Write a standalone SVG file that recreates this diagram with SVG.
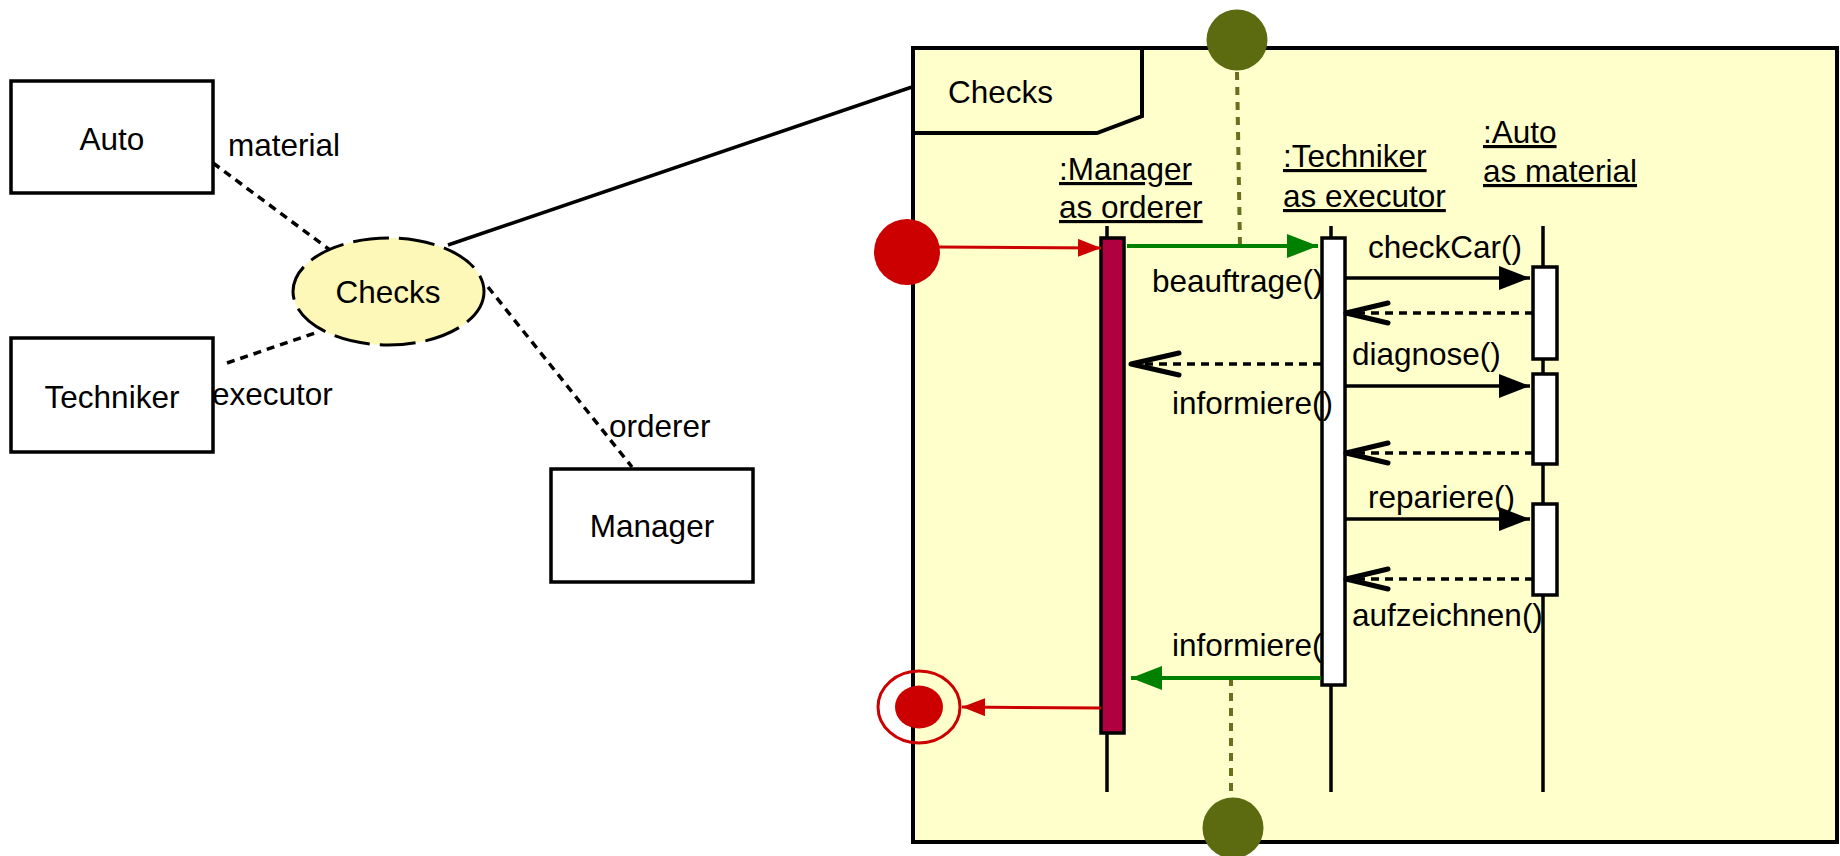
<svg xmlns="http://www.w3.org/2000/svg" width="1840" height="856" viewBox="0 0 1840 856">
<style>
text{font-family:"Liberation Sans",Arial,sans-serif;font-size:31.5px;fill:#000}
.box{fill:#fff;stroke:#000;stroke-width:3.5}
.dot{fill:none;stroke:#000;stroke-width:3.5;stroke-dasharray:8 6}
.life{stroke:#000;stroke-width:3.5}
.msg{stroke:#000;stroke-width:3.5;fill:none}
.ret{stroke:#000;stroke-width:3.5;fill:none;stroke-dasharray:8 6}
.olive{stroke:#66701e;stroke-width:4;stroke-dasharray:8 7;fill:none}
.act{fill:#fff;stroke:#000;stroke-width:3.5}
.u{text-decoration:underline}
</style>
<defs>
<marker id="fb" markerUnits="userSpaceOnUse" viewBox="0 0 31 24" refX="31" refY="12" markerWidth="31" markerHeight="24" orient="auto"><path d="M0,0 L31,12 L0,24 z" fill="#000"/></marker>
<marker id="fg" markerUnits="userSpaceOnUse" viewBox="0 0 31 24" refX="31" refY="12" markerWidth="31" markerHeight="24" orient="auto"><path d="M0,0 L31,12 L0,24 z" fill="#008000"/></marker>
<marker id="fr" markerUnits="userSpaceOnUse" viewBox="0 0 23 18" refX="23" refY="9" markerWidth="23" markerHeight="18" orient="auto"><path d="M0,0 L23,9 L0,18 z" fill="#cc0000"/></marker>
<marker id="op" markerUnits="userSpaceOnUse" viewBox="-4 -4 50 30" refX="42" refY="10" markerWidth="50" markerHeight="30" orient="auto" overflow="visible"><path d="M0,0 L42,10 L0,20" fill="none" stroke="#000" stroke-width="5" stroke-linecap="round" stroke-linejoin="round"/></marker>
<marker id="op2" markerUnits="userSpaceOnUse" viewBox="-4 -4 56 30" refX="48" refY="11" markerWidth="56" markerHeight="30" orient="auto" overflow="visible"><path d="M0,0 L48,11 L0,22" fill="none" stroke="#000" stroke-width="5" stroke-linecap="round" stroke-linejoin="round"/></marker>
</defs>

<g id="left-connectors">
<line class="dot" x1="213" y1="163" x2="330" y2="250"/>
<line class="dot" x1="227" y1="363" x2="318" y2="332"/>
<line class="dot" x1="488" y1="287" x2="632" y2="467"/>
<line class="msg" x1="448" y1="245" x2="912" y2="87"/>
</g>

<g id="auto"><rect class="box" x="11" y="81" width="202" height="112"/><text x="112" y="150" text-anchor="middle">Auto</text></g>
<g id="techniker"><rect class="box" x="11" y="338" width="202" height="114"/><text x="112" y="408" text-anchor="middle">Techniker</text></g>
<g id="manager"><rect class="box" x="551" y="469" width="202" height="113"/><text x="652" y="537" text-anchor="middle">Manager</text></g>
<g id="checks-usecase"><ellipse cx="388.5" cy="291.5" rx="95.5" ry="53.5" fill="#fdf8b8" stroke="#000" stroke-width="3" stroke-dasharray="36 10"/><text x="388" y="303" text-anchor="middle">Checks</text></g>
<g id="role-labels">
<text x="228" y="156">material</text>
<text x="212" y="405">executor</text>
<text x="609" y="437">orderer</text>
</g>

<g id="frame">
<rect x="913" y="48" width="924" height="794" fill="#ffffcc" stroke="#000" stroke-width="4"/>
<path d="M913,133 L1097,133 L1142,116 L1142,48" fill="none" stroke="#000" stroke-width="4"/>
<text x="948" y="103">Checks</text>
</g>

<g id="gates">
<line class="olive" x1="1237" y1="72" x2="1240" y2="246"/>
<line class="olive" x1="1231" y1="678" x2="1231" y2="792"/>
<circle cx="1237" cy="40" r="30.5" fill="#5c6a10"/>
<circle cx="1233" cy="828" r="30.5" fill="#5c6a10"/>
</g>

<g id="lifeline-manager">
<line class="life" x1="1107" y1="226" x2="1107" y2="792"/>
<rect x="1101" y="238" width="23" height="495" fill="#b00040" stroke="#000" stroke-width="3.5"/>
<text class="u" x="1059" y="180">:Manager</text>
<text class="u" x="1059" y="218">as orderer</text>
</g>

<text x="1172" y="656">informiere()</text>

<g id="lifeline-techniker">
<line class="life" x1="1331" y1="226" x2="1331" y2="792"/>
<rect class="act" x="1322" y="238" width="23" height="447"/>
<text class="u" x="1283" y="167">:Techniker</text>
<text class="u" x="1283" y="207">as executor</text>
</g>

<g id="lifeline-auto">
<line class="life" x1="1543" y1="226" x2="1543" y2="792"/>
<rect class="act" x="1533" y="267" width="24" height="92"/>
<rect class="act" x="1533" y="374" width="24" height="90"/>
<rect class="act" x="1533" y="504" width="24" height="91"/>
<text class="u" x="1483" y="143">:Auto</text>
<text class="u" x="1483" y="182">as material</text>
</g>

<g id="start"><circle cx="907" cy="252" r="33" fill="#cc0000"/></g>
<g id="end"><ellipse cx="919" cy="707" rx="41" ry="36" fill="none" stroke="#cc0000" stroke-width="3"/><ellipse cx="919" cy="707" rx="24" ry="21.5" fill="#cc0000"/></g>

<g id="connectors">
<line x1="938" y1="247" x2="1101" y2="248" stroke="#cc0000" stroke-width="3" marker-end="url(#fr)"/>
<line x1="1127" y1="246" x2="1318" y2="246" stroke="#008000" stroke-width="4" marker-end="url(#fg)"/>
<line class="msg" x1="1345" y1="278" x2="1530" y2="278" marker-end="url(#fb)"/>
<line class="ret" x1="1533" y1="313" x2="1346" y2="313" marker-end="url(#op)"/>
<line class="ret" x1="1321" y1="364" x2="1131" y2="364" marker-end="url(#op2)"/>
<line class="msg" x1="1345" y1="386" x2="1530" y2="386" marker-end="url(#fb)"/>
<line class="ret" x1="1533" y1="453" x2="1346" y2="453" marker-end="url(#op)"/>
<line class="msg" x1="1345" y1="519" x2="1530" y2="519" marker-end="url(#fb)"/>
<line class="ret" x1="1533" y1="579" x2="1346" y2="579" marker-end="url(#op)"/>
<line x1="1321" y1="678" x2="1131" y2="678" stroke="#008000" stroke-width="4" marker-end="url(#fg)"/>
<line x1="1101" y1="708" x2="962" y2="707" stroke="#cc0000" stroke-width="3" marker-end="url(#fr)"/>
</g>

<g id="message-labels">
<text x="1152" y="292">beauftrage()</text>
<text x="1368" y="258">checkCar()</text>
<text x="1172" y="414">informiere()</text>
<text x="1352" y="365">diagnose()</text>
<text x="1368" y="508">repariere()</text>
<text x="1352" y="626">aufzeichnen()</text>
</g>
</svg>
